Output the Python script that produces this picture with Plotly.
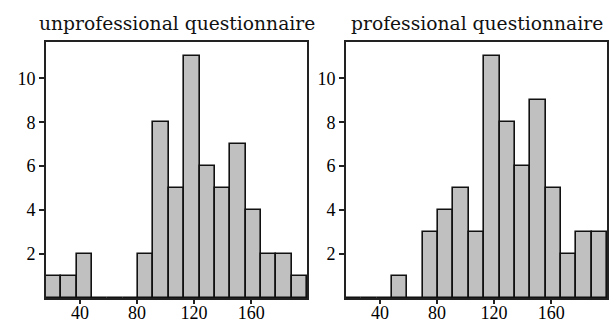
import plotly.graph_objects as go

# ---- data ----
panel_titles = ["unprofessional questionnaire", "professional questionnaire"]
bin_start = 16.1
bin_width = 10.77
counts_unprofessional = [1, 1, 2, 0, 0, 0, 2, 8, 5, 11, 6, 5, 7, 4, 2, 2, 1]
counts_professional = [0, 0, 0, 1, 0, 3, 4, 5, 3, 11, 8, 6, 9, 5, 2, 3, 3]
x_ticks = [40, 80, 120, 160]
y_ticks = [2, 4, 6, 8, 10]

n_bins = len(counts_unprofessional)
centers = [bin_start + bin_width * (i + 0.5) for i in range(n_bins)]
x_range = [bin_start, bin_start + bin_width * n_bins]
y_range = [0, 11.65]

W, H = 609, 320
fig = go.Figure()

doms_px = [(46, 307), (346, 607)]
ytop_px, ybot_px = 42, 298
ydom = [(H - ybot_px) / H, (H - ytop_px) / H]

for i, counts in enumerate([counts_unprofessional, counts_professional]):
    xa = "x" if i == 0 else "x2"
    ya = "y" if i == 0 else "y2"
    fig.add_trace(go.Bar(
        x=centers, y=counts, width=bin_width,
        marker=dict(color="#c0c0c0", line=dict(color="#111111", width=1.6)),
        xaxis=xa, yaxis=ya, showlegend=False, hoverinfo="skip",
    ))

tickfont = dict(family="Liberation Serif", size=18, color="#000000")
axis_common = dict(showline=True, mirror=True, linecolor="#222222", linewidth=2,
                   ticks="outside", tickwidth=1.5, tickcolor="#222222",
                   showgrid=False, zeroline=False, tickfont=tickfont, fixedrange=True,
                   automargin=False)

for i, (l, r) in enumerate(doms_px):
    sfx = "" if i == 0 else "2"
    fig.layout["xaxis" + sfx] = dict(domain=[l / W, r / W], range=x_range,
                                     tickvals=x_ticks, anchor="y" + sfx, ticklen=4,
                                     ticklabelstandoff=-7, **axis_common)
    fig.layout["yaxis" + sfx] = dict(domain=ydom, range=y_range,
                                     tickvals=y_ticks, anchor="x" + sfx, ticklen=5,
                                     **axis_common)
    fig.add_annotation(text=panel_titles[i], xref="paper", yref="paper",
                       x=(l + r) / 2 / W, y=(H - 24) / H, xanchor="center", yanchor="middle",
                       showarrow=False,
                       font=dict(family="DejaVu Serif", size=18.7, color="#111111"))

fig.update_layout(width=W, height=H, margin=dict(l=0, r=0, t=0, b=0, autoexpand=False),
                  paper_bgcolor="white", plot_bgcolor="white", bargap=0)

fig.write_html("out.html", config={"displayModeBar": False},
               post_script="document.body.style.margin='0';")
